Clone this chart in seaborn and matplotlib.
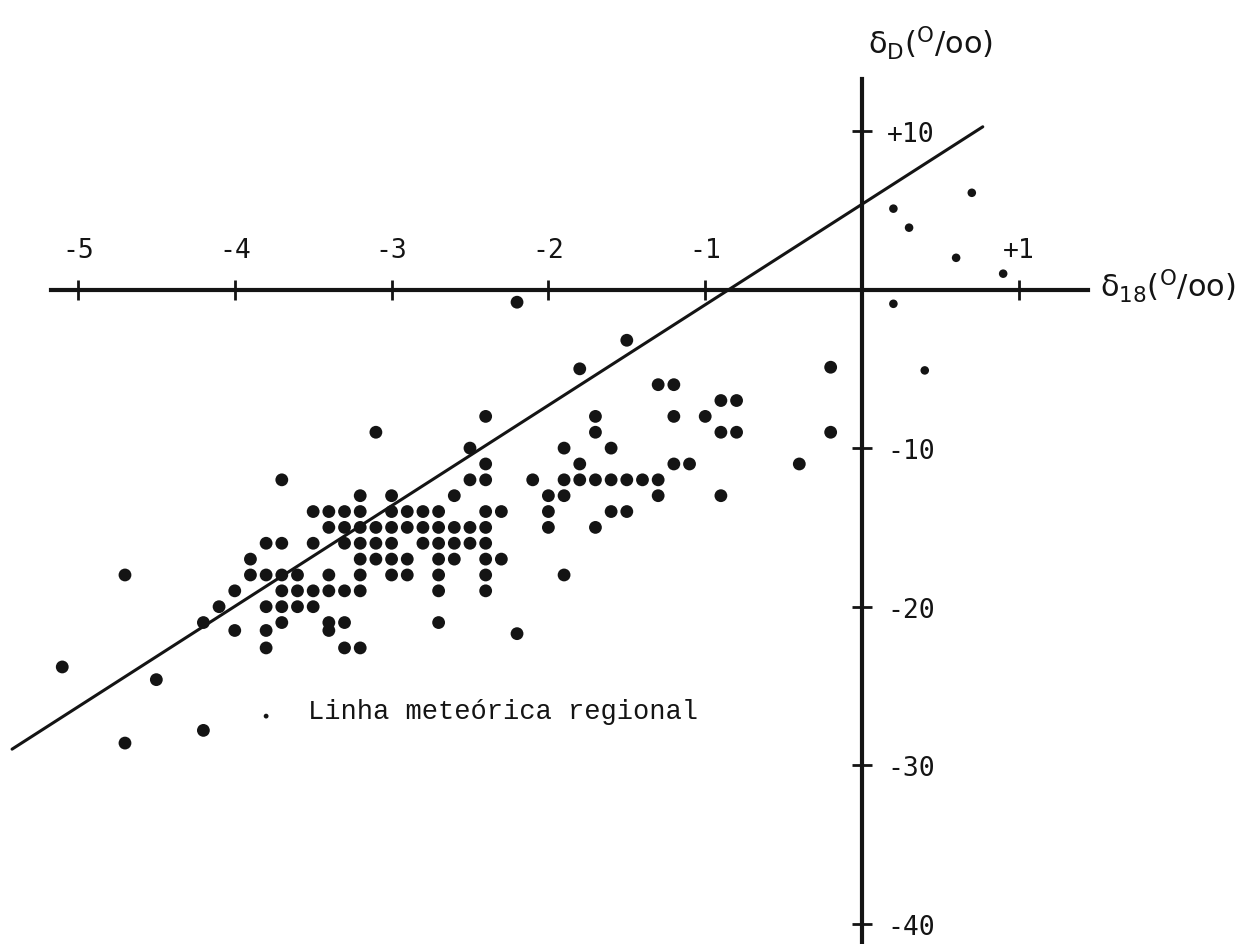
import matplotlib
matplotlib.use("Agg")
import matplotlib.pyplot as plt
import numpy as np
import pandas as pd
import seaborn as sns

# ---- data (delta18O, deltaD in per mil) ----
big_d18 = [
    -2.2, -1.5, -1.8, -0.2,
    -1.3, -1.2, -0.9, -0.8,
    -2.4, -1.7, -1.2, -1.0,
    -3.1, -1.7, -0.9, -0.8, -0.2,
    -2.5, -1.9, -1.6,
    -2.4, -1.8, -1.2, -1.1, -0.4,
    -3.7, -2.5, -2.4, -2.1, -1.9, -1.8, -1.7, -1.6, -1.5, -1.4, -1.3,
    -3.2, -3.0, -2.6, -2.0, -1.9, -1.3, -0.9,
    -3.5, -3.4, -3.3, -3.2, -3.0, -2.9, -2.8, -2.7, -2.4, -2.3, -2.0, -1.6, -1.5,
    -3.4, -3.3, -3.2, -3.1, -3.0, -2.9, -2.8, -2.7, -2.6, -2.5, -2.4, -2.0, -1.7,
    -3.8, -3.7, -3.5, -3.3, -3.2, -3.1, -3.0, -2.8, -2.7, -2.6, -2.5, -2.4,
    -3.9, -3.2, -3.1, -3.0, -2.9, -2.7, -2.6, -2.4, -2.3,
    -4.7, -3.9, -3.8, -3.7, -3.6, -3.4, -3.2, -3.0, -2.9, -2.7, -2.4, -1.9,
    -4.0, -3.7, -3.6, -3.5, -3.4, -3.3, -3.2, -2.7, -2.4,
    -4.1, -3.8, -3.7, -3.6, -3.5,
    -4.2, -3.7, -3.4, -3.3, -2.7,
    -4.0, -3.8, -3.4, -2.2,
    -3.8, -3.3, -3.2,
    -5.1, -4.5, -4.2, -4.7,
]
big_dD = [
    -0.8, -3.2, -5.0, -4.9,
    -6, -6, -7, -7,
    -8, -8, -8, -8,
    -9, -9, -9, -9, -9,
    -10, -10, -10,
    -11, -11, -11, -11, -11,
    -12, -12, -12, -12, -12, -12, -12, -12, -12, -12, -12,
    -13, -13, -13, -13, -13, -13, -13,
    -14, -14, -14, -14, -14, -14, -14, -14, -14, -14, -14, -14, -14,
    -15, -15, -15, -15, -15, -15, -15, -15, -15, -15, -15, -15, -15,
    -16, -16, -16, -16, -16, -16, -16, -16, -16, -16, -16, -16,
    -17, -17, -17, -17, -17, -17, -17, -17, -17,
    -18, -18, -18, -18, -18, -18, -18, -18, -18, -18, -18, -18,
    -19, -19, -19, -19, -19, -19, -19, -19, -19,
    -20, -20, -20, -20, -20,
    -21, -21, -21, -21, -21,
    -21.5, -21.5, -21.5, -21.7,
    -22.6, -22.6, -22.6,
    -23.8, -24.6, -27.8, -28.6,
]
small_d18 = [0.2, 0.3, 0.7, 0.6, 0.9, 0.2, 0.4]
small_dD = [5.1, 3.9, 6.1, 2.0, 1.0, -0.9, -5.1]
tiny_d18 = [-3.8]
tiny_dD = [-26.9]

# regional meteoric line  dD = a * d18 + b
line_slope = 6.34
line_intercept = 5.38
line_d18 = [-5.42, 0.77]

x_ticks = [-5, -4, -3, -2, -1, 1]
x_tick_labels = ["-5", "-4", "-3", "-2", "-1", "+1"]
y_ticks = [10, -10, -20, -30, -40]
y_tick_labels = ["+10", "-10", "-20", "-30", "-40"]

line_label = "Linha meteórica regional"
x_label = r"$\delta_{18}(^{O}/oo)$"
y_label = r"$\delta_{D}(^{O}/oo)$"

# ---- styling ----
sns.set_theme(style="white")
plt.rcParams["font.family"] = ["DejaVu Sans Mono", "DejaVu Sans"]
plt.rcParams["mathtext.fontset"] = "dejavusans"
plt.rcParams["mathtext.default"] = "regular"

ink = "#141414"

fig = plt.figure(figsize=(12.42, 9.45), dpi=100)
fig.patch.set_facecolor("white")
ax = fig.add_axes([0, 0, 1, 1])
ax.set_facecolor("white")

line_df = pd.DataFrame({"d18": line_d18})
line_df["dD"] = line_slope * line_df["d18"] + line_intercept
sns.lineplot(data=line_df, x="d18", y="dD", color=ink, linewidth=2.2, ax=ax)

sns.scatterplot(x=big_d18, y=big_dD, s=85, color=ink, edgecolor="none", ax=ax, zorder=3)
sns.scatterplot(x=small_d18, y=small_dD, s=38, color=ink, edgecolor="none", ax=ax, zorder=3)
sns.scatterplot(x=tiny_d18, y=tiny_dD, s=12, color=ink, edgecolor="none", ax=ax, zorder=3)

ax.set_xlim(-5.497, 2.423)
ax.set_ylim(-41.27, 18.32)

# axes crossing at the origin
ax.spines["bottom"].set_visible(False)
ax.spines["left"].set_visible(False)
ax.spines["top"].set_position(("data", 0))
ax.spines["right"].set_position(("data", 0))
ax.spines["top"].set_bounds(-5.17, 1.44)
ax.spines["right"].set_bounds(-41.27, 13.3)
for s in ("top", "right"):
    ax.spines[s].set_color(ink)
    ax.spines[s].set_linewidth(3.0)
    ax.spines[s].set_zorder(2)

ax.xaxis.set_ticks_position("top")
ax.yaxis.set_ticks_position("right")
ax.set_xticks(x_ticks)
ax.set_xticklabels(x_tick_labels)
ax.set_yticks(y_ticks)
ax.set_yticklabels(y_tick_labels)
ax.tick_params(axis="both", direction="inout", length=14, width=2.0,
               colors=ink, labelsize=19)
ax.tick_params(axis="x", pad=12)
ax.tick_params(axis="y", pad=11)
ax.set_xlabel("")
ax.set_ylabel("")

ax.text(1.518, -0.41, x_label, fontsize=22, color=ink, ha="left", va="baseline",
        family="DejaVu Sans")
ax.text(0.04, 14.9, y_label, fontsize=22, color=ink, ha="left", va="baseline",
        family="DejaVu Sans")
ax.text(-3.533, -27.02, line_label, fontsize=19.5, color=ink, ha="left",
        va="baseline", family=["Liberation Mono", "DejaVu Sans Mono"])

fig.savefig("out.png", dpi=100, facecolor="white")
